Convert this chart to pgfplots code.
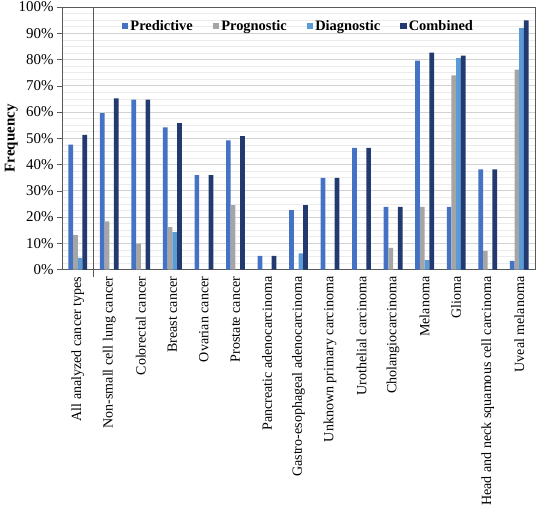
\documentclass[border=0pt]{standalone}
\usepackage{fontspec}
\setmainfont{Liberation Serif}[Ligatures=TeX]
\usepackage{pgfplots}
\pgfplotsset{compat=1.18}
\definecolor{cPred}{HTML}{4472C4}
\definecolor{cProg}{HTML}{A5A5A5}
\definecolor{cDiag}{HTML}{5B9BD5}
\definecolor{cComb}{HTML}{223A70}
\begin{document}
\begin{tikzpicture}
\begin{axis}[
  scale only axis,
  width=473bp, height=262.5bp,
  ybar=0pt, bar width=4.7bp,
  xmin=-0.5, xmax=14.5,
  ymin=0, ymax=100,
  xtick={0,...,14},
  xticklabels={All analyzed cancer types,Non-small cell lung cancer,Colorectal cancer,Breast cancer,Ovarian cancer,Prostate cancer,Pancreatic adenocarcinoma,Gastro-esophageal adenocarcinoma,Unknown primary carcinoma,Urothelial carcinoma,Cholangiocarcinoma,Melanoma,Glioma,Head and neck squamous cell carcinoma,Uveal melanoma},
  xticklabel style={rotate=90, anchor=east, font=\fontsize{14.1}{16}\selectfont, inner sep=2bp},
  x tick style={draw=none},
  ytick={0,10,...,100},
  yticklabels={0\%,10\%,20\%,30\%,40\%,50\%,60\%,70\%,80\%,90\%,100\%},
  yticklabel style={font=\fontsize{15}{17}\selectfont},
  minor y tick num=3,
  ymajorgrids, yminorgrids,
  major grid style={gray!35, line width=0.6bp},
  minor grid style={gray!16, line width=0.5bp},
  ytick pos=left,
  tick align=outside,
  major tick length=5bp,
  minor tick length=0pt,
  y tick style={gray!70!black},
  axis line style={gray!70!black},
  ylabel={\textbf{Frequency}},
  ylabel style={font=\fontsize{15}{16}\selectfont},
  ylabel shift=-6bp,
  legend columns=4,
  legend style={draw=none, fill=none, at={(0.5,0.965)}, anchor=north,
    font=\fontsize{14.5}{16}\selectfont\bfseries,
    /tikz/every even column/.append style={column sep=18bp}},
  legend image code/.code={\fill[#1] (0bp,-3.2bp) rectangle (6.5bp,3.2bp);},
  clip=false,
]
\addplot[fill=cPred, draw=none] coordinates {(0,47.6)(1,59.6)(2,64.7)(3,54.1)(4,36.0)(5,49.2)(6,5.2)(7,22.6)(8,34.9)(9,46.3)(10,23.9)(11,79.6)(12,23.9)(13,38.1)(14,3.3)};
\addplot[fill=cProg, draw=none] coordinates {(0,13.1)(1,18.3)(2,9.9)(3,16.1)(4,0)(5,24.5)(6,0)(7,0)(8,0)(9,0)(10,8.2)(11,23.9)(12,74.0)(13,7.1)(14,76.1)};
\addplot[fill=cDiag, draw=none] coordinates {(0,4.4)(1,0)(2,0)(3,14.2)(4,0)(5,0)(6,0)(7,6.1)(8,0)(9,0)(10,0)(11,3.6)(12,80.5)(13,0)(14,92.0)};
\addplot[fill=cComb, draw=none] coordinates {(0,51.3)(1,65.2)(2,64.7)(3,55.8)(4,36.0)(5,50.8)(6,5.2)(7,24.5)(8,34.9)(9,46.3)(10,23.9)(11,82.6)(12,81.5)(13,38.1)(14,94.9)};
\legend{Predictive,Prognostic,Diagnostic,Combined}
\draw[gray!70!black, line width=0.6bp] (axis cs:0.5,100) -- ([yshift=-7bp]axis cs:0.5,0);
\coordinate (sw) at (rel axis cs:0,0);
\coordinate (ne) at (rel axis cs:1,1);
\end{axis}
\pgfresetboundingbox
\path[use as bounding box] ([shift={(-62bp,-241.5bp)}]sw) rectangle ([shift={(1bp,7bp)}]ne);
\end{tikzpicture}
\end{document}
